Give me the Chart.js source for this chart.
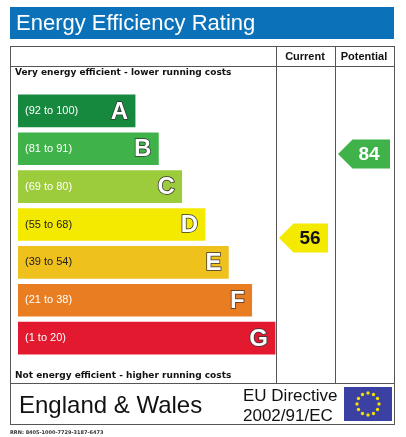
<!DOCTYPE html>
<html>
<head>
<meta charset="utf-8">
<script src="https://cdn.jsdelivr.net/npm/chart.js@4.4.0/dist/chart.umd.min.js"></script>
<style>
html,body{margin:0;padding:0;background:#fff;}
#wrap{position:relative;width:406px;height:437px;}
</style>
</head>
<body>
<div id="wrap"><canvas id="epc" width="406" height="437"></canvas></div>
<script>
// bands, top (best) to bottom (worst)
var bandLetters = ['A', 'B', 'C', 'D', 'E', 'F', 'G'];
var bandRanges = ['(92 to 100)', '(81 to 91)', '(69 to 80)', '(55 to 68)', '(39 to 54)', '(21 to 38)', '(1 to 20)'];
var bandLow = [92, 81, 69, 55, 39, 21, 1];
var bandHigh = [100, 91, 80, 68, 54, 38, 20];
var bandRank = [1, 2, 3, 4, 5, 6, 7];
var bandColors = ['#17893f', '#3fb24a', '#9ccb3b', '#f4ea00', '#efc11d', '#e97d22', '#e2192f'];
var currentRating = 56;
var potentialRating = 84;
var rrn = 'RRN: 8405-1000-7729-3187-6473';

function bandOf(v) {
    for (var i = 0; i < bandLow.length; i++) {
        if (v >= bandLow[i] && v <= bandHigh[i]) return i;
    }
    return bandLow.length - 1;
}

function arrow(ctx, x, y, w, h, fill) {
    ctx.beginPath();
    ctx.moveTo(x, y);
    ctx.lineTo(x + h / 2, y - h / 2);
    ctx.lineTo(x + w, y - h / 2);
    ctx.lineTo(x + w, y + h / 2);
    ctx.lineTo(x + h / 2, y + h / 2);
    ctx.closePath();
    ctx.fillStyle = fill;
    ctx.fill();
}

var frame = {
    id: 'frame',
    beforeDraw: function (chart) {
        var ctx = chart.ctx;
        ctx.save();
        ctx.fillStyle = '#fff';
        ctx.fillRect(0, 0, 406, 437);
        // title
        ctx.fillStyle = '#0b72b9';
        ctx.fillRect(10, 7, 384, 32);
        ctx.fillStyle = '#fff';
        ctx.font = '22px "Liberation Sans", Arial, sans-serif';
        ctx.textBaseline = 'middle';
        ctx.fillText('Energy Efficiency Rating', 16, 24);
        // table
        ctx.strokeStyle = '#555';
        ctx.lineWidth = 1;
        ctx.strokeRect(10.5, 46.5, 384, 378);
        ctx.beginPath();
        ctx.moveTo(10, 66.5); ctx.lineTo(395, 66.5);
        ctx.moveTo(10, 383.5); ctx.lineTo(395, 383.5);
        ctx.moveTo(276.5, 46); ctx.lineTo(276.5, 384);
        ctx.moveTo(335.5, 46); ctx.lineTo(335.5, 384);
        ctx.stroke();
        ctx.fillStyle = '#111';
        ctx.font = 'bold 11px "Liberation Sans", Arial, sans-serif';
        ctx.textAlign = 'center';
        ctx.fillText('Current', 305, 57);
        ctx.fillText('Potential', 364, 57);
        ctx.textAlign = 'left';
        ctx.font = 'bold 9px "DejaVu Sans", sans-serif';
        ctx.fillText('Very energy efficient - lower running costs', 15, 73);
        ctx.fillText('Not energy efficient - higher running costs', 15, 376);
        // footer
        ctx.font = '24px "Liberation Sans", Arial, sans-serif';
        ctx.fillText('England & Wales', 19, 406);
        ctx.font = '17px "Liberation Sans", Arial, sans-serif';
        ctx.fillText('EU Directive', 243, 396);
        ctx.fillText('2002/91/EC', 243, 416);
        // EU flag
        ctx.fillStyle = '#3b40a3';
        ctx.fillRect(344, 387, 48, 34);
        ctx.fillStyle = '#f3e000';
        for (var k = 0; k < 12; k++) {
            var a = k * Math.PI / 6;
            ctx.beginPath();
            ctx.arc(368 + 11 * Math.cos(a), 404 + 11 * Math.sin(a), 1.7, 0, Math.PI * 2);
            ctx.fill();
        }
        ctx.fillStyle = '#333';
        ctx.font = 'bold 5px "DejaVu Sans", sans-serif';
        ctx.fillText(rrn, 10, 433);
        ctx.restore();
    },
    afterDatasetsDraw: function (chart) {
        var ctx = chart.ctx;
        var meta = chart.getDatasetMeta(0);
        var ys = chart.scales.y;
        var step = ys.getPixelForValue(1) - ys.getPixelForValue(0);
        ctx.save();
        ctx.textBaseline = 'middle';
        meta.data.forEach(function (bar, i) {
            var dark = i === 3 || i === 4;
            ctx.fillStyle = dark ? '#222' : '#fff';
            ctx.font = '11px "Liberation Sans", Arial, sans-serif';
            ctx.textAlign = 'left';
            ctx.fillText(bandRanges[i], bar.base + 7, bar.y);
            ctx.font = 'bold 24px "Liberation Sans", Arial, sans-serif';
            ctx.textAlign = 'right';
            ctx.lineWidth = 1.5;
            ctx.strokeStyle = '#333';
            ctx.fillStyle = '#fff';
            ctx.strokeText(bandLetters[i], bar.x - 7, bar.y + 1);
            ctx.fillText(bandLetters[i], bar.x - 7, bar.y + 1);
        });
        function ratingY(v) {
            var b = bandOf(v);
            var f = (bandHigh[b] - v) / (bandHigh[b] - bandLow[b] + 1) - 0.5;
            return ys.getPixelForValue(b) + f * step;
        }
        var cy = ratingY(currentRating);
        arrow(ctx, 279, cy, 49, 29, bandColors[bandOf(currentRating)]);
        ctx.font = 'bold 19px "Liberation Sans", Arial, sans-serif';
        ctx.textAlign = 'center';
        ctx.fillStyle = '#111';
        ctx.fillText(String(currentRating), 310, cy + 1);
        var py = ratingY(potentialRating);
        arrow(ctx, 338, py, 52, 29, bandColors[bandOf(potentialRating)]);
        ctx.fillStyle = '#fff';
        ctx.fillText(String(potentialRating), 369, py + 1);
        ctx.restore();
    }
};

new Chart(document.getElementById('epc'), {
    type: 'bar',
    data: {
        labels: bandLetters,
        datasets: [{
            data: bandRank,
            base: -4.02,
            backgroundColor: bandColors,
            borderWidth: 0,
            barThickness: 32
        }]
    },
    options: {
        indexAxis: 'y',
        responsive: false,
        animation: false,
        layout: { padding: { left: 18, right: 12, top: 92, bottom: 80 } },
        plugins: { legend: { display: false }, tooltip: { enabled: false } },
        scales: {
            x: { display: false, min: -4.02, max: 12.1 },
            y: { display: false }
        }
    },
    plugins: [frame]
});
</script>
</body>
</html>
